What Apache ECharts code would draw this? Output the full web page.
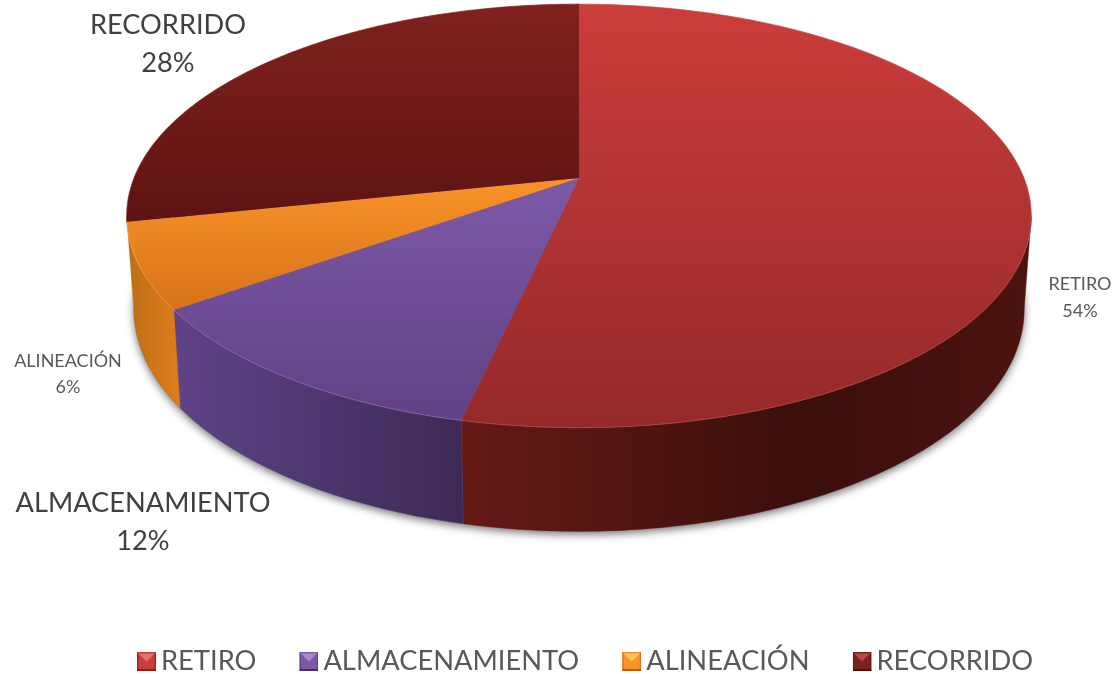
<!DOCTYPE html>
<html><head><meta charset="utf-8">
<style>html,body{margin:0;padding:0;background:#fff}#c{width:1113px;height:674px}</style>
<script src="https://cdn.jsdelivr.net/npm/echarts@6/dist/echarts.min.js"></script>
</head><body><div id="c"></div>
<script>
// --- data ---
const categories = ['RETIRO', 'ALMACENAMIENTO', 'ALINEACIÓN', 'RECORRIDO'];
const shares = [53.5, 11.7, 6.49, 28.31];

// --- style / layout (not data) ---
const topFace = [
  {from:'#cb3d3b', to:'#95292a', y0:5,   y1:425, rim:'#c0504d', hi:'#e8706c', lo:'#86201f'},
  {from:'#7d59a8', to:'#5f4284', y0:178, y1:420, rim:'#8e72b8', hi:'#a98ad2', lo:'#46305f'},
  {from:'#f99329', to:'#d6731a', y0:178, y1:310, rim:'#fba64a', hi:'#fdc25e', lo:'#b0600f'},
  {from:'#80211d', to:'#5d1311', y0:5,   y1:222, rim:'#80211d', hi:'#b04a46', lo:'#4a0f0d'}
];
const sideFace = [
  [[0,'#661a16'],[0.6,'#3a0f0c'],[1,'#4b1410']],
  [[0,'#5e4387'],[1,'#3d2a55']],
  [[0,'#bd6e17'],[1,'#dd7d1c']],
  null
];
const labelBoxes = [
  {x:1080, y:298, size:18, lh:27, color:'#595959'},
  {x:143,  y:522, size:27.2, lh:38, color:'#404040'},
  {x:68,   y:374, size:18, lh:26, color:'#595959'},
  {x:168,  y:44,  size:27.2, lh:38, color:'#404040'}
];
const topDisc = {cx:579, cy:178, a:445, b:205, k:0.179};
const baseDisc = {cx:579, cy:269.5, a:438, b:215, k:0.179};
const FONT = 'Lato';

const total = shares.reduce((s,v)=>s+v,0);
const cumStart = shares.map((_,i)=>shares.slice(0,i).reduce((s,v)=>s+v,0));
// angular range of the rim that faces the viewer (tangent points of the wall)
const visFrom = Math.acos(-topDisc.k), visTo = Math.PI*2 - visFrom;
const lastVisible = cumStart.reduce((best,c,i)=>{
  const end = echarts.number.linearMap(c+shares[i],[0,total],[0,Math.PI*2]);
  return end < visTo+0.0001 ? i : best;
},0);

function project(d, th){
  const x = Math.sin(th), y = -Math.cos(th), w = 1 - d.k*y;
  return [d.cx + d.a*x/w, d.cy + d.b*y/w];
}
function arc(d, t0, t1){
  const n = Math.max(4, Math.ceil(Math.abs(t1-t0)/0.01)), pts=[];
  for(let i=0;i<=n;i++) pts.push(project(d, t0+(t1-t0)*i/n));
  return pts;
}
const G = echarts.graphic.LinearGradient;

function renderSlice(idx){
  return function(params, api){
    const v = api.value(0);
    const t0 = echarts.number.linearMap(cumStart[idx],[0,total],[0,Math.PI*2]);
    const t1 = echarts.number.linearMap(cumStart[idx]+v,[0,total],[0,Math.PI*2]);
    const topArc = arc(topDisc,t0,t1);
    const kids = [];
    if(idx===0){
      kids.push({type:'polygon',z2:0,silent:true,
        shape:{points:arc(baseDisc,0,Math.PI*2)},
        style:{fill:'#6b6b6b',shadowColor:'rgba(0,0,0,0.55)',shadowBlur:9,shadowOffsetX:0,shadowOffsetY:3}});
    }
    if(sideFace[idx]){
      const w0 = Math.max(t0,visFrom);
      const w1 = idx===lastVisible ? visTo : Math.min(t1,visTo);
      const wTop = arc(topDisc,w0,w1), wBase = arc(baseDisc,w0,w1);
      const xs = wTop.concat(wBase).map(p=>p[0]);
      const minX = Math.min.apply(null,xs), maxX = Math.max.apply(null,xs);
      kids.push({type:'polygon',z2:1,
        shape:{points:wTop.concat(wBase.slice().reverse())},
        style:{fill:new G(minX,0,maxX,0,sideFace[idx].map(s=>({offset:s[0],color:s[1]})),true),
               stroke:sideFace[idx][0][1],lineWidth:0.4}});
    }
    const f = topFace[idx];
    kids.push({type:'polygon',z2:10,
      shape:{points:[[topDisc.cx,topDisc.cy]].concat(topArc)},
      style:{fill:new G(0,f.y0,0,f.y1,[{offset:0,color:f.from},{offset:1,color:f.to}],true)}});
    kids.push({type:'polyline',z2:11,shape:{points:topArc},
      style:{fill:null,stroke:f.rim,lineWidth:1,opacity:0.7}});
    const L = labelBoxes[idx];
    kids.push({type:'text',z2:20,
      style:{x:L.x,y:L.y,text:categories[idx]+'\n'+Math.round(v/total*100)+'%',
        fill:L.color,font:L.size+'px '+FONT,lineHeight:L.lh,align:'center',verticalAlign:'middle'}});
    return {type:'group',children:kids};
  };
}
function bevelIcon(i){
  const f = topFace[i];
  const svg = "<svg xmlns='http://www.w3.org/2000/svg' width='40' height='40' viewBox='0 0 40 40'>"+
    "<rect width='40' height='40' fill='"+f.from+"'/>"+
    "<polygon points='0,0 3,3 3,37 0,40' fill='"+f.to+"'/>"+
    "<polygon points='40,0 37,3 37,37 40,40' fill='"+f.to+"'/>"+
    "<polygon points='3,3 37,3 20,20' fill='"+f.hi+"'/>"+
    "<polygon points='0,36 40,36 40,40 0,40' fill='"+f.lo+"'/></svg>";
  return 'image://data:image/svg+xml;charset=utf-8,'+encodeURIComponent(svg);
}

const chart = echarts.init(document.getElementById('c'),null,{renderer:'canvas'});
chart.setOption({
  animation:false,
  backgroundColor:'#fff',
  legend:{
    left:137, top:648, padding:0, itemGap:43, itemWidth:19, itemHeight:19, selectedMode:false,
    data:categories.map((n,i)=>({name:n,icon:bevelIcon(i)})),
    textStyle:{fontFamily:FONT,fontSize:27.3,color:'#595959'}
  },
  series:categories.map((n,i)=>({
    type:'custom',name:n,coordinateSystem:'none',silent:true,
    itemStyle:{color:topFace[i].from},
    renderItem:renderSlice(i),
    data:[[shares[i]]]
  }))
});
</script></body></html>
